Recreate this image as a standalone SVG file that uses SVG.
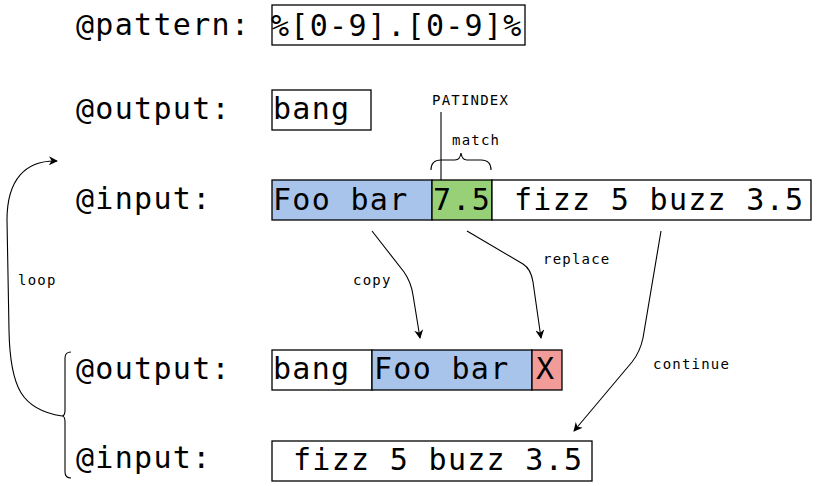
<svg xmlns="http://www.w3.org/2000/svg" width="817" height="486" viewBox="0 0 817 486">
<defs>
<style>
.big{font-family:"DejaVu Sans Mono","Liberation Mono",monospace;font-size:30px;letter-spacing:1.3px;fill:#000}
.sm{font-family:"DejaVu Sans Mono","Liberation Mono",monospace;font-size:14px;letter-spacing:1.2px;fill:#000}
.box{stroke:#000;stroke-width:1.3}
.ln{fill:none;stroke:#000;stroke-width:1.1}
</style>
<marker id="ah" viewBox="0 0 10 10" refX="9" refY="5" markerWidth="9" markerHeight="9" markerUnits="userSpaceOnUse" orient="auto">
<path d="M0,0 L10,5 L0,10 L3,5 Z" fill="#000"/>
</marker>
</defs>
<rect width="817" height="486" fill="#fff"/>

<g id="labels">
<text class="big" x="76" y="35">@pattern:</text>
<text class="big" x="76" y="119">@output:</text>
<text class="big" x="76" y="209">@input:</text>
<text class="big" x="76" y="379">@output:</text>
<text class="big" x="76" y="468">@input:</text>
</g>

<g id="pattern">
<rect class="box" x="272" y="5" width="253" height="40" fill="#fff"/>
<text class="big" x="271" y="36">%[0-9].[0-9]%</text>
</g>

<g id="output1">
<rect class="box" x="272" y="90" width="99" height="40" fill="#fff"/>
<text class="big" x="273" y="119">bang</text>
</g>

<g id="input1">
<rect class="box" x="272" y="180" width="160" height="40" fill="#A9C4EB"/>
<text class="big" x="273" y="210">Foo bar</text>
<rect class="box" x="432" y="180" width="60" height="40" fill="#97D077"/>
<text class="big" x="433" y="210">7.5</text>
<rect class="box" x="492" y="180" width="319" height="40" fill="#fff"/>
<text class="big" x="514" y="210">fizz 5 buzz 3.5</text>
</g>

<g id="output2">
<rect class="box" x="272" y="350" width="100" height="40" fill="#fff"/>
<text class="big" x="273" y="379">bang</text>
<rect class="box" x="372" y="350" width="160" height="40" fill="#A9C4EB"/>
<text class="big" x="374" y="379">Foo bar</text>
<rect class="box" x="532" y="350" width="30" height="40" fill="#F19C99"/>
<text class="big" x="536" y="379">X</text>
</g>

<g id="input2">
<rect class="box" x="272" y="441" width="320" height="40" fill="#fff"/>
<text class="big" x="293" y="470">fizz 5 buzz 3.5</text>
</g>

<g id="annotations">
<text class="sm" x="432" y="105">PATINDEX</text>
<text class="sm" x="452" y="145">match</text>
<text class="sm" x="353" y="285">copy</text>
<text class="sm" x="543" y="264">replace</text>
<text class="sm" x="653" y="369">continue</text>
<text class="sm" x="18" y="285">loop</text>
</g>

<g id="connectors">
<line class="ln" x1="441" y1="112" x2="441" y2="180"/>
<path class="ln" d="M431,170 Q431,160 441,160 L455,160 Q460,160 461,153 Q462,160 467,160 L481,160 Q491,160 491,170"/>
<path class="ln" d="M71,352 Q65,352 65,358 L65,410 Q65,416 62,416 Q65,416 65,422 L65,472 Q65,478 71,478"/>
<path class="ln" d="M62,416 C22,410 10,388 9,330 L7,220 C7,180 25,160 57,161" marker-end="url(#ah)"/>
<path class="ln" d="M372,231 L404,272 Q411,282 413,295 L420,338" marker-end="url(#ah)"/>
<path class="ln" d="M467,231 L523,264 Q531,269 533,282 L541,338" marker-end="url(#ah)"/>
<path class="ln" d="M661,231 L643,338 Q640,352 632,362 L574,431" marker-end="url(#ah)"/>
</g>
</svg>
